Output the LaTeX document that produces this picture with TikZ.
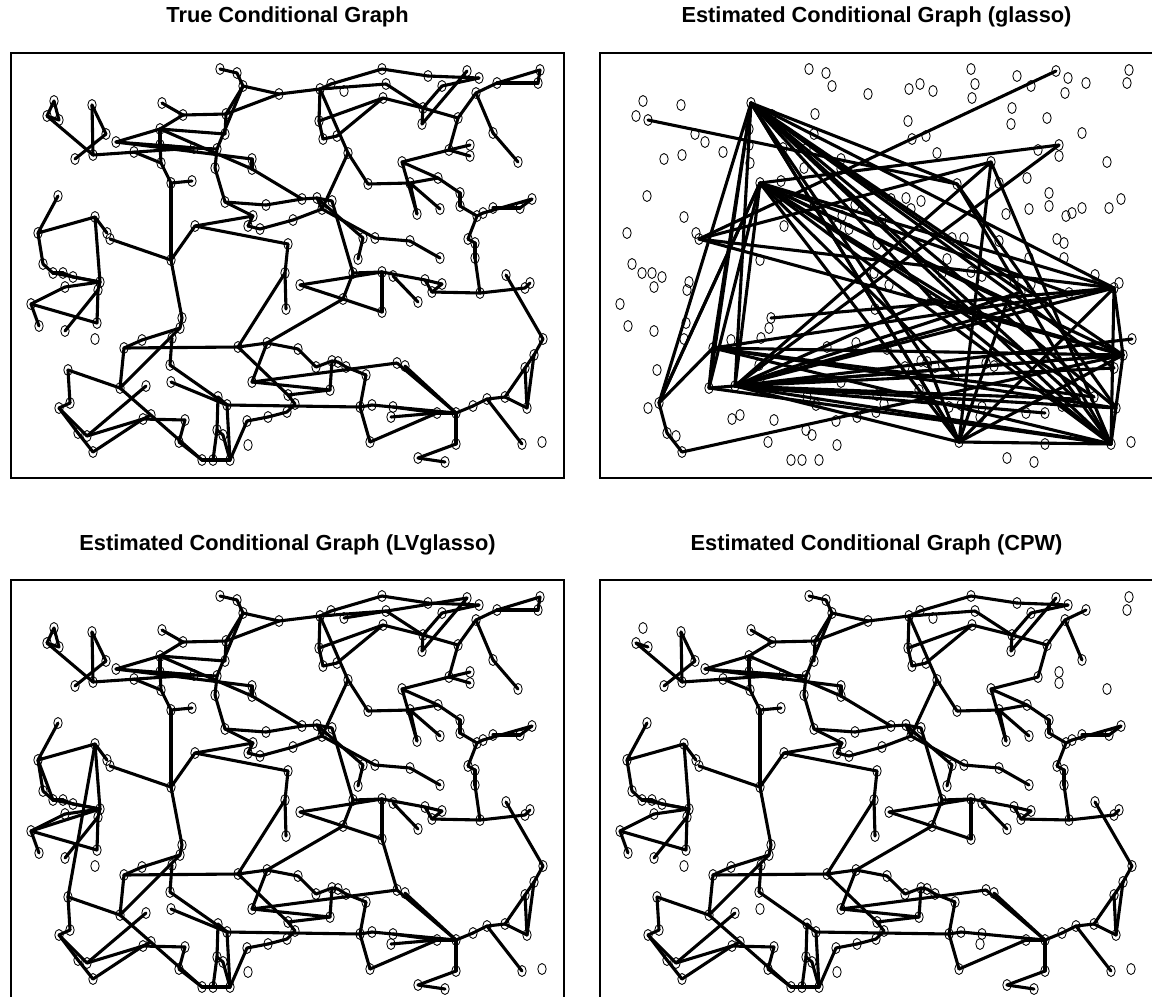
\documentclass[tikz,border=0pt]{standalone}
\usepackage{fontspec}
\setmainfont{Liberation Sans}
\usetikzlibrary{shapes.geometric}

% vertex layout (same in all four panels), pixel units of the top-left panel
\def\vertices{1/54/101, 2/47/116, 3/59/120, 4/92/105, 5/106/134, 6/75/159, 7/93/155, 8/116/142, 9/134/152, 10/162/103,
11/183/115, 12/160/129, 13/160/145, 14/161/163, 15/171/183, 16/192/181, 17/194/148, 18/58/196, 19/38/233, 20/95/217,
21/107/233, 22/110/239, 23/171/260, 24/195/226, 25/43/264, 26/53/273, 27/63/273, 28/73/277, 29/65/287, 30/100/282,
31/98/290, 32/31/304, 33/39/326, 34/65/331, 35/97/323, 36/95/339, 37/182/318, 38/180/328, 39/172/338, 40/142/340,
41/124/348, 42/68/370, 43/120/388, 44/146/386, 45/170/365, 46/171/382, 47/59/408, 48/70/403, 49/78/433, 50/87/436,
51/93/452, 52/143/419, 53/151/415, 54/185/420, 55/179/442, 56/202/460, 57/220/69, 58/237/73, 59/243/86, 60/279/94,
61/320/89, 62/331/84, 63/344/91, 64/382/69, 65/226/114, 66/225/134, 67/217/149, 68/215/168, 69/252/159, 70/252/169,
72/319/121, 73/323/139, 74/337/136, 75/348/153, 76/368/184, 77/225/202, 78/266/205, 79/302/199, 80/317/198,
81/332/201, 82/322/209, 83/253/216, 84/248/226, 85/260/229, 86/293/220, 87/288/244, 88/363/238, 89/358/259, 90/386/84,
91/428/76, 92/442/86, 93/467/71, 94/479/78, 95/497/83, 96/540/70, 97/538/83, 98/476/93, 99/383/98, 100/423/108,
101/422/124, 102/458/118, 103/493/133, 104/518/162, 105/449/150, 106/470/145, 107/470/156, 108/402/162, 109/438/178, 110/410/183,
111/460/193, 112/460/206, 113/440/209, 114/417/214, 115/477/216, 116/483/213, 117/493/208, 118/520/208, 119/532/199, 120/375/238,
121/410/241, 122/468/239, 123/475/243, 124/475/258, 125/440/258, 126/285/273, 127/286/309, 128/300/285, 129/343/299, 130/353/273,
131/382/312, 132/238/347, 133/267/343, 134/298/349, 135/316/367, 136/332/361, 137/338/362, 138/346/367, 139/330/390, 140/366/375,
141/252/382, 142/288/395, 143/218/397, 144/227/405, 145/295/404, 146/287/412, 147/268/417, 148/247/421, 149/360/407, 150/372/405,
151/370/442, 152/248/445, 153/217/430, 154/223/435, 155/213/460, 156/230/460, 157/382/272, 158/393/276, 159/425/280, 160/432/292,
161/442/284, 162/418/302, 163/480/293, 164/506/275, 165/525/288, 166/530/283, 167/543/339, 168/534/355, 169/525/368, 170/397/363,
171/405/366, 172/527/408, 173/505/397, 174/487/399, 175/473/406, 176/456/413, 177/437/413, 178/393/407, 179/391/417, 180/456/444,
181/418/458, 182/445/462, 183/522/444, 184/542/442}

% edges shared by the true, LVglasso and CPW graphs
\def\coreedges{2/3, 2/7, 4/7, 4/5, 5/6, 7/17, 8/12, 8/17, 9/14, 10/11, 11/12, 11/65, 12/13, 12/70, 13/14, 14/15, 15/16,
15/23, 13/17, 8/69, 17/67, 67/59, 65/66, 65/59, 60/65, 57/58, 58/59, 59/60, 60/61, 67/68, 68/77, 69/70, 70/79,
77/78, 78/79, 79/80, 80/81, 75/82, 80/82, 80/88, 88/89, 61/62, 62/64, 61/90, 61/72, 72/73, 73/74, 72/99, 74/99,
61/75, 75/76, 76/110, 110/109, 77/83, 83/84, 84/85, 85/86, 86/82, 83/24, 24/87, 87/126, 23/24, 22/23, 20/21,
19/20, 18/19, 20/30, 19/25, 25/26, 26/27, 27/28, 26/30, 28/30, 32/29, 29/30, 32/35, 31/35, 31/34, 32/33, 30/31,
23/37, 37/38, 38/40, 40/41, 38/43, 41/43, 41/132, 42/43, 42/48, 43/56, 44/50, 47/48, 47/49, 49/51, 47/50, 51/52,
50/52, 52/53, 52/54, 54/55, 55/56, 45/144, 39/45, 132/133, 133/134, 134/135, 132/142, 133/141, 141/170, 141/139,
136/139, 135/136, 136/137, 137/138, 138/140, 140/149, 139/142, 142/145, 144/149, 149/150, 149/151, 145/146,
146/147, 147/148, 144/143, 143/153, 153/154, 154/156, 155/156, 153/155, 56/155, 144/156, 148/156, 129/133,
126/127, 126/132, 128/129, 129/130, 129/131, 81/130, 130/157, 128/157, 157/159, 158/162, 159/161, 160/161, 159/160,
160/163, 163/165, 164/167, 166/165, 167/168, 168/169, 169/172, 168/172, 169/173, 172/173, 173/174, 174/175,
175/176, 176/177, 170/176, 171/176, 150/176, 151/177, 176/180, 180/181, 181/182, 174/183, 131/157, 124/163,
125/121, 120/121, 122/123, 123/124, 115/122, 119/118, 117/118, 116/119, 115/116, 112/115, 111/112, 109/111,
108/109, 108/105, 105/102, 102/100, 100/101, 101/93, 92/94, 91/94, 64/91, 90/100, 92/100, 102/98, 98/95,
98/103, 108/114, 110/114, 110/113, 99/100, 82/120}
% edges of the true graph that CPW misses
\def\trueonly{1/2, 1/3, 95/96, 96/97, 97/95, 103/104, 105/106, 105/107, 178/177, 179/177, 12/66, 46/144}
% extra edges found by LVglasso
\def\lvextra{20/42, 30/32, 19/26, 131/170, 63/93}
% glasso estimate
\def\glassoedges{10/165, 10/168, 10/183, 10/151, 10/44, 10/43, 10/76, 10/137, 10/129, 10/174, 10/172, 10/169, 10/160,
15/165, 15/168, 15/183, 15/151, 15/106, 15/48, 15/162, 15/131, 15/140, 15/173, 15/163, 22/93, 22/165, 22/168, 22/108,
41/168, 41/43, 41/165, 41/183, 41/10, 41/172, 41/173, 44/165, 44/168, 44/183, 44/151, 44/106, 44/108, 44/129,
44/160, 44/172, 44/174, 44/169, 44/163, 44/176, 44/167, 44/15, 48/10, 48/49, 48/41, 48/15, 49/51, 51/168,
151/165, 151/168, 151/183, 151/10, 151/137, 151/162, 183/165, 183/168, 165/168, 3/76, 76/183, 129/183,
43/183, 43/168, 43/15, 108/183, 108/151, 76/172, 129/168, 162/183, 37/165}

\newcommand{\graphpanel}[3]{%
\begin{scope}[shift={(#2,#3)}]
\draw[frame] (11,53) rectangle (564,478);
\foreach \i/\x/\y in \vertices {\node[vtx] (#1-\i) at (\x,\y) {};}
\end{scope}}

\begin{document}
\begin{tikzpicture}[x=0.025cm,y=-0.025cm,
vtx/.style={ellipse,draw,inner sep=0pt,minimum width=0.21cm,minimum height=0.275cm,line width=0.6pt},
edge/.style={line width=2.2pt,line cap=round},
frame/.style={line width=0.8pt},
title/.style={font=\fontsize{15.5}{18}\selectfont\bfseries}]
\useasboundingbox (0,0) rectangle (1152,996);
\clip (0,0) rectangle (1152,996);

\node[title] (t1) at (287.5,17) {True Conditional Graph};
\node[title] (t2) at (876.5,17) {Estimated Conditional Graph (glasso)};
\node[title] (t3) at (287.5,545) {Estimated Conditional Graph (LVglasso)};
\node[title] (t4) at (876.5,545) {Estimated Conditional Graph (CPW)};

\graphpanel{tg}{0}{0}
\graphpanel{gl}{589}{0}
\graphpanel{lv}{0}{527}
\graphpanel{cp}{589}{527}

% true graph
\foreach \a/\b in \coreedges {\draw[edge] (tg-\a.center) -- (tg-\b.center);}
\foreach \a/\b in \trueonly {\draw[edge] (tg-\a.center) -- (tg-\b.center);}
% glasso
\foreach \a/\b in \glassoedges {\draw[edge] (gl-\a.center) -- (gl-\b.center);}
% LVglasso
\foreach \a/\b in \coreedges {\draw[edge] (lv-\a.center) -- (lv-\b.center);}
\foreach \a/\b in \trueonly {\draw[edge] (lv-\a.center) -- (lv-\b.center);}
\foreach \a/\b in \lvextra {\draw[edge] (lv-\a.center) -- (lv-\b.center);}
% CPW
\foreach \a/\b in \coreedges {\draw[edge] (cp-\a.center) -- (cp-\b.center);}
\end{tikzpicture}
\end{document}
